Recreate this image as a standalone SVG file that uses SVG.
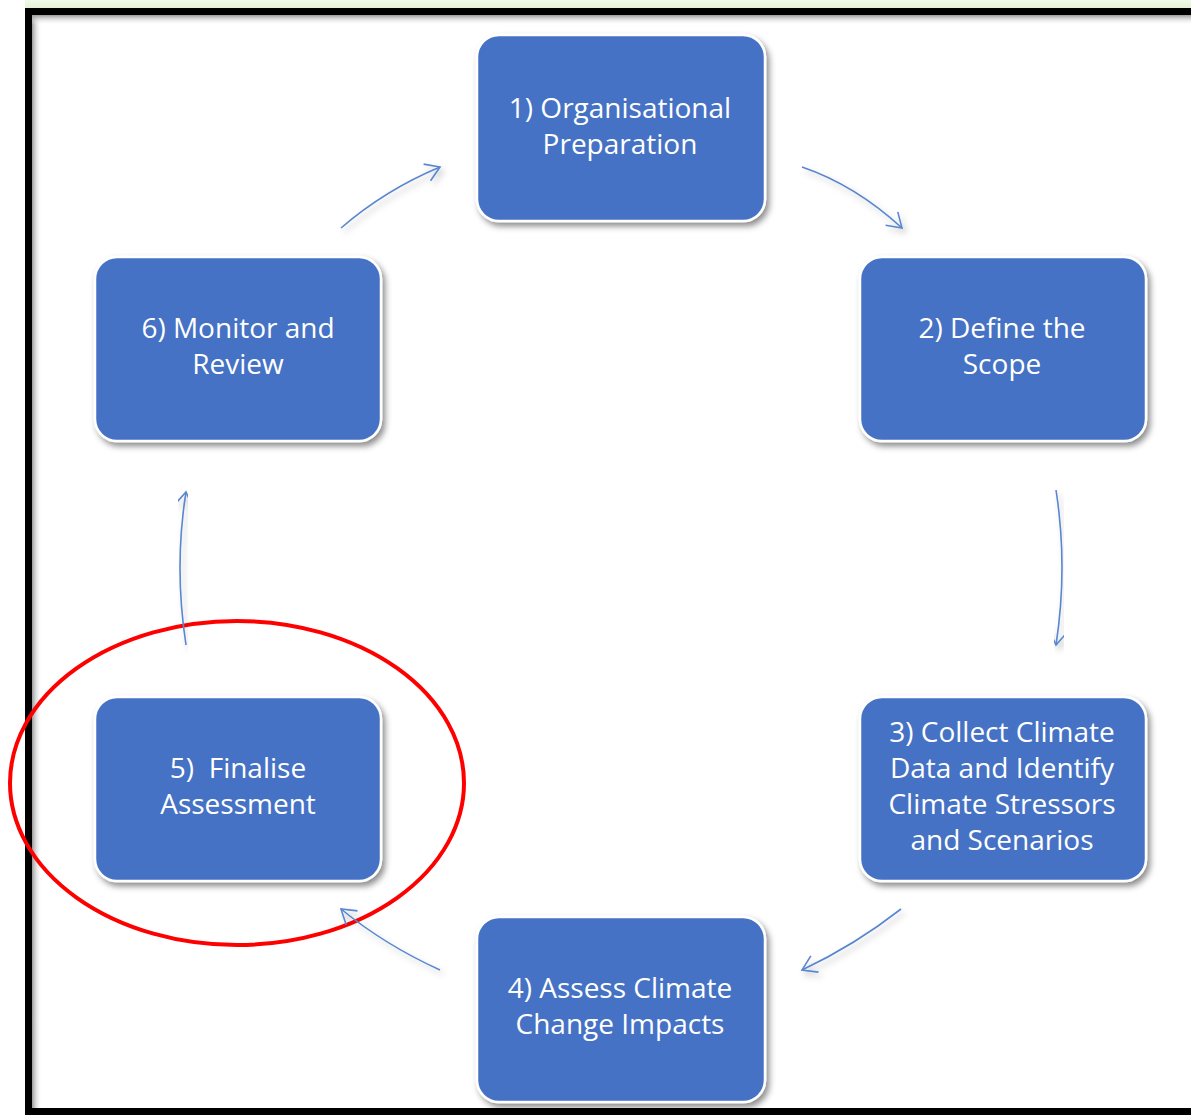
<svg xmlns="http://www.w3.org/2000/svg" width="1191" height="1115" viewBox="0 0 1191 1115">
  <defs>
    <style>
      .box { fill: #4472C4; stroke: #FFFFFF; stroke-width: 2.5; filter: url(#boxShadow); }
      .label { fill: #FFFFFF; font-family: "Open Sans", "Noto Sans", sans-serif; font-size: 28px; text-anchor: middle; }
      .conn { fill: none; stroke: #5A86D0; stroke-width: 1.6; marker-end: url(#arrow); filter: url(#lineShadow); }
    </style>
    <filter id="boxShadow" x="-10%" y="-10%" width="130%" height="130%">
      <feDropShadow dx="3" dy="4" stdDeviation="3" flood-color="#000" flood-opacity="0.45"/>
    </filter>
    <filter id="lineShadow" x="-20%" y="-20%" width="150%" height="150%">
      <feDropShadow dx="3" dy="4" stdDeviation="3" flood-color="#000" flood-opacity="0.25"/>
    </filter>
    <marker id="arrow" markerUnits="userSpaceOnUse" markerWidth="22" markerHeight="22" refX="15" refY="10" orient="auto">
      <path d="M1,1 L15,10 L1,19" fill="none" stroke="#5A86D0" stroke-width="1.6"/>
    </marker>
    <linearGradient id="leftShade" x1="0" y1="0" x2="1" y2="0">
      <stop offset="0" stop-color="#9a9a9a"/>
      <stop offset="1" stop-color="#ffffff" stop-opacity="0"/>
    </linearGradient>
    <linearGradient id="topShade" x1="0" y1="0" x2="0" y2="1">
      <stop offset="0" stop-color="#9a9a9a"/>
      <stop offset="1" stop-color="#ffffff" stop-opacity="0"/>
    </linearGradient>
    <linearGradient id="greenStrip" x1="0" y1="0" x2="0" y2="1">
      <stop offset="0" stop-color="#F2F9EA"/>
      <stop offset="1" stop-color="#E4F2D3"/>
    </linearGradient>
  </defs>

  <rect x="0" y="0" width="1191" height="1115" fill="#FFFFFF"/>
  <rect x="25" y="0" width="1166" height="8" fill="url(#greenStrip)"/>

  <!-- frame -->
  <rect x="32" y="15" width="10" height="1094" fill="url(#leftShade)"/>
  <rect x="32" y="15" width="1159" height="10" fill="url(#topShade)"/>
  <rect x="28.5" y="11.5" width="1200" height="1100" fill="none" stroke="#000000" stroke-width="7"/>

  <!-- highlight ellipse -->
  <ellipse id="highlight" cx="237" cy="783" rx="227" ry="162" fill="none" stroke="#FF0000" stroke-width="4"/>

  <g id="node1">
    <rect class="box" x="477" y="35" width="288" height="186" rx="22"/>
    <text class="label" x="620" y="118">1) Organisational</text>
    <text class="label" x="620" y="154">Preparation</text>
  </g>
  <g id="node2">
    <rect class="box" x="860" y="257" width="286" height="184" rx="22"/>
    <text class="label" x="1002" y="338">2) Define the</text>
    <text class="label" x="1002" y="374">Scope</text>
  </g>
  <g id="node3">
    <rect class="box" x="860" y="697" width="286" height="184" rx="22"/>
    <text class="label" x="1002" y="742">3) Collect Climate</text>
    <text class="label" x="1002" y="778">Data and Identify</text>
    <text class="label" x="1002" y="814">Climate Stressors</text>
    <text class="label" x="1002" y="850">and Scenarios</text>
  </g>
  <g id="node4">
    <rect class="box" x="477" y="917" width="288" height="185" rx="22"/>
    <text class="label" x="620" y="998">4) Assess Climate</text>
    <text class="label" x="620" y="1034">Change Impacts</text>
  </g>
  <g id="node5">
    <rect class="box" x="95" y="697" width="286" height="184" rx="22"/>
    <text class="label" x="238" y="778" xml:space="preserve">5)  Finalise</text>
    <text class="label" x="238" y="814">Assessment</text>
  </g>
  <g id="node6">
    <rect class="box" x="95" y="257" width="286" height="184" rx="22"/>
    <text class="label" x="238" y="338">6) Monitor and</text>
    <text class="label" x="238" y="374">Review</text>
  </g>

  <g id="connectors">
    <path class="conn" d="M341,228 Q385,190 440,167"/>
    <path class="conn" d="M802,167 Q855,185 902,228"/>
    <path class="conn" d="M1056,490 Q1068,567 1056,645"/>
    <path class="conn" d="M901,909 Q855,945 802,970"/>
    <path class="conn" d="M440,970 Q385,945 341,909"/>
    <path class="conn" d="M186,645 Q174,567 186,492"/>
  </g>
</svg>
